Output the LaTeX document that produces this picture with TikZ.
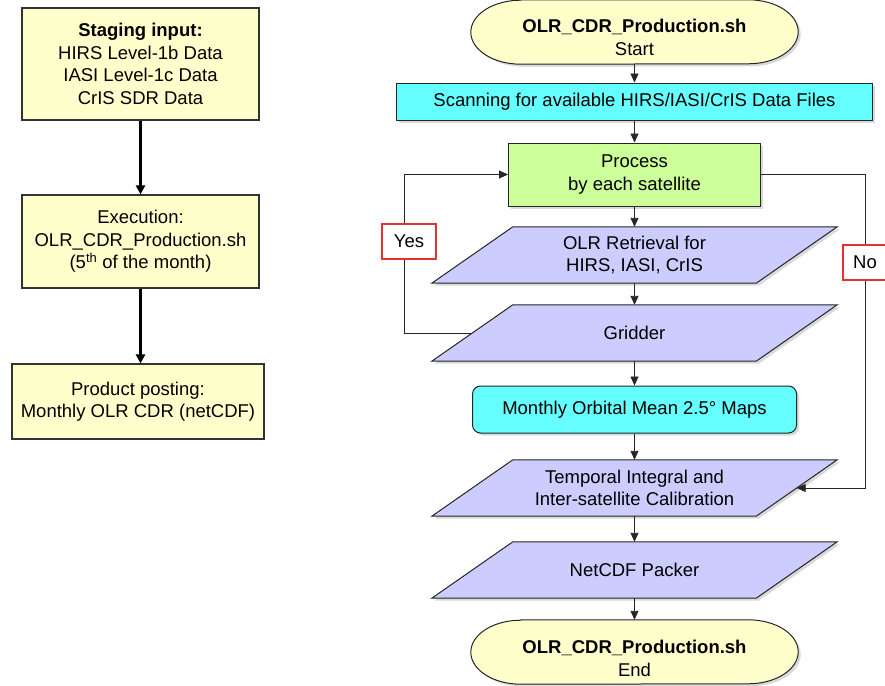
\documentclass[tikz,border=0pt]{standalone}
\usepackage{fontspec}
\setmainfont{Liberation Sans}
\usetikzlibrary{arrows.meta,shadows,backgrounds}
\definecolor{lyellow}{HTML}{FFFFCC}
\definecolor{cyanbox}{HTML}{66FFFF}
\definecolor{greenbox}{HTML}{CCFF99}
\definecolor{violetbox}{HTML}{CCCCFF}
\definecolor{labred}{HTML}{E8302E}
\begin{document}
\begin{tikzpicture}[x=1pt,y=-1pt,
  every node/.style={font=\fontsize{18.5}{22.5}\selectfont, align=center, inner sep=0pt},
  leftbox/.style={draw=black!80, line width=1.2pt, fill=lyellow},
  thickarrow/.style={line width=2.8pt, draw=black, -{Triangle[length=9pt,width=9pt]}},
  shad/.style={drop shadow={shadow xshift=2.5pt,shadow yshift=-2.5pt,opacity=0.3}},
  rbox/.style={draw=black!85, line width=1pt, shad},
  area/.style={minimum width=324pt, minimum height=56pt},
  para/.style={draw=black!85, line width=1pt, fill=violetbox, shad},
  arr/.style={line width=0.9pt, draw=black!85, -{Triangle[length=9pt,width=8pt]}},
  tag/.style={draw=labred, line width=1.2pt, fill=white, minimum height=35pt},
  term/.style={draw=black!85, line width=1pt, fill=lyellow, shad},
  termarea/.style={minimum width=327pt, minimum height=64pt}
]
\useasboundingbox (0,0) rectangle (885,685);

% ---------- left column ----------
\node[leftbox, minimum width=237pt, minimum height=112pt] (in) at (140.5,64)
  {\textbf{Staging input:}\\HIRS Level-1b Data\\IASI Level-1c Data\\CrIS SDR Data};
\node[leftbox, minimum width=237pt, minimum height=93pt] (ex) at (140.5,241.5)
  {Execution:\\OLR\_CDR\_Production.sh\\(5\textsuperscript{th} of the month)};
\node[leftbox, minimum width=252pt, minimum height=75pt] (po) at (138,401.5)
  {Product posting:\\Monthly OLR CDR (netCDF)};
\draw[thickarrow] (in.south) -- (ex.north);
\draw[thickarrow] (ex.south) -- (ex.south |- po.north);

% ---------- right column ----------
\node[termarea] (start) at (634.5,32) {};
\node[rbox, fill=cyanbox, minimum width=476pt, minimum height=37pt] (scan) at (634.5,101.5)
  {Scanning for available HIRS/IASI/CrIS Data Files};
\node[rbox, fill=greenbox, minimum width=252pt, minimum height=63pt] (proc) at (634.5,174.5)
  {Process\\by each satellite};
\node[area] (ret) at (634.5,255) {OLR Retrieval for\\HIRS, IASI, CrIS};
\node[area] (grid) at (634.5,333) {Gridder};
\node[rbox, fill=cyanbox, rounded corners=8pt, minimum width=324pt, minimum height=47pt] (mean) at (634.5,409.5)
  {Monthly Orbital Mean 2.5° Maps};
\node[area] (temp) at (634.5,488) {Temporal Integral and\\Inter-satellite Calibration};
\node[area] (pack) at (634.5,570) {NetCDF Packer};
\node[termarea] (end) at (634.5,652) {};

\begin{scope}[on background layer]
  \foreach \n in {ret,grid,temp,pack}
    \path[para] ([xshift=40.5pt]\n.north west) -- ([xshift=40.5pt]\n.north east)
      -- ([xshift=-40.5pt]\n.south east) -- ([xshift=-40.5pt]\n.south west) -- cycle;
  \foreach \n in {start,end}
    \path[term] ([xshift=50pt]\n.north west) -- ([xshift=-50pt]\n.north east)
      arc[start angle=90,end angle=-90,x radius=50pt,y radius=32pt]
      -- ([xshift=50pt]\n.south west)
      arc[start angle=270,end angle=90,x radius=50pt,y radius=32pt] -- cycle;
\end{scope}

\node (startt) at ([yshift=-5.5pt]start.center) {\textbf{OLR\_CDR\_Production.sh}\\Start};
\node (endt) at ([yshift=-6.5pt]end.center) {\textbf{OLR\_CDR\_Production.sh}\\End};

\draw[arr] (start.south) -- (scan.north);
\draw[arr] (scan.south) -- (proc.north);
\draw[arr] (proc.south) -- (ret.north);
\draw[arr] (ret.south) -- (grid.north);
\draw[arr] (grid.south) -- (mean.north);
\draw[arr] (mean.south) -- (temp.north);
\draw[arr] (temp.south) -- (pack.north);
\draw[arr] (pack.south) -- (end.north);

% loops
\coordinate (yc) at (404,333);
\coordinate (nc) at (865,174.5);
\draw[arr] (grid.west) -- (yc) |- (proc.west);
\draw[arr] (proc.east) -- (nc) |- (temp.east);

\node[tag, minimum width=54pt] (yes) at (409,241.5) {Yes};
\node[tag, minimum width=44pt] (no) at (865,262.5) {No};
\end{tikzpicture}
\end{document}
